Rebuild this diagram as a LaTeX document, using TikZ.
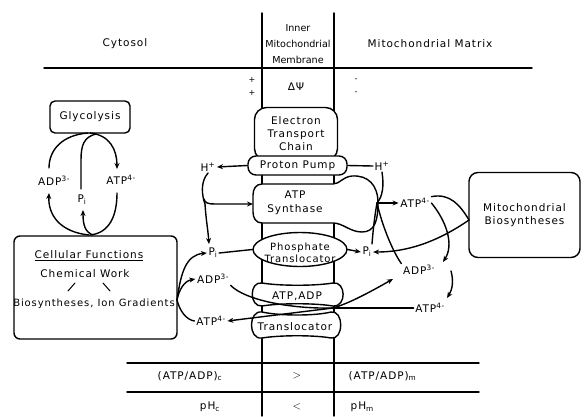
\documentclass[tikz,border=0pt]{standalone}
\usepackage{fontspec}
\setmainfont{DejaVu Sans}[LetterSpace=9]
\newfontfamily\narrowf{DejaVu Sans}
\usetikzlibrary{arrows.meta,shapes.geometric}
\begin{document}
\begin{tikzpicture}[x=1pt,y=-1pt, line width=1.4pt, line join=round, line cap=round,
  lbl/.style={inner sep=1pt, font=\fontsize{10.5}{12}\selectfont},
  sm/.style={inner sep=0.5pt, font=\fontsize{8}{8}\selectfont},
  box/.style={draw, fill=white, rounded corners=6pt, inner sep=2pt, font=\fontsize{10.5}{13}\selectfont, align=center},
  arr/.style={-{Stealth[length=6pt,width=5pt]}}]
\useasboundingbox (0,0) rectangle (584,416);

% membrane and table lines
\draw (262,13) -- (262,416);
\draw (334,13) -- (334,416);
\draw (44,68) -- (532,68);
\draw (127,363) -- (479,363);
\draw (127,392) -- (479,392);

% headers
\node[lbl] (cyt) at (125,44) {Cytosol};
\node[lbl] (mat) at (430,44) {Mitochondrial Matrix};
\node[inner sep=0pt, font=\narrowf\fontsize{9.6}{16}\selectfont, align=center] (imm) at (298,44) {Inner\\Mitochondrial\\Membrane};
\node[lbl] (dpsi) at (296,87) {ΔΨ};
\node[sm] (p1) at (252,80) {+};
\node[sm] (p2) at (252,93) {+};
\node[sm] (m1) at (356,80) {-};
\node[sm] (m2) at (356,93) {-};

% boxes
\node[box, rounded corners=5pt, minimum width=80, minimum height=32] (gly) at (90,117) {Glycolysis};
\node[box, minimum width=163, minimum height=103] (cf) at (95.5,287.5) {};
\node[box, rounded corners=9pt, minimum width=111, minimum height=85] (mb) at (524.5,215) {Mitochondrial\\Biosyntheses};
\node[box, rounded corners=12pt, minimum width=83, minimum height=53] (etc) at (296,134) {Electron\\Transport\\Chain};
\node[box, rounded corners=8pt, minimum width=99, minimum height=19] (pp) at (297.5,165.5) {Proton Pump};

% ATP synthase
\draw[fill=white] (262,184) -- (333,184) .. controls (340,184) and (342,177) .. (352,176)
  .. controls (368,175) and (378,185) .. (378,203) .. controls (378,220) and (375,232) .. (362,232)
  .. controls (350,232) and (343,223) .. (333,223) -- (262,223) .. controls (256,223) and (253,218) .. (253,212)
  -- (253,195) .. controls (253,189) and (256,184) .. (262,184) -- cycle;
% phosphate translocator
\node[draw, fill=white, ellipse, minimum width=94, minimum height=34, inner sep=0pt] (pt) at (300,249.5) {};
% ATP,ADP translocator
\draw[fill=white] (262,283) .. controls (280,286) and (315,286) .. (333,283) .. controls (346,281) and (347,307) .. (333,306)
  .. controls (315,303) and (280,303) .. (262,306) .. controls (249,307) and (249,281) .. (262,283) -- cycle;
\draw[fill=white] (262,312) .. controls (280,316) and (315,316) .. (331,312) .. controls (344,310) and (344,340) .. (331,338)
  .. controls (315,335) and (280,335) .. (262,338) .. controls (248,340) and (248,310) .. (262,312) -- cycle;

% texts inside shapes
\node[lbl, align=center, font=\fontsize{10.5}{14.5}\selectfont] (atps) at (295,203) {ATP\\Synthase};
\node[lbl, align=center, font=\fontsize{10}{12.5}\selectfont] (ptt) at (300,253) {Phosphate\\Translocator};
\node[lbl] (aat) at (297,296) {ATP,ADP};
\node[lbl] (trt) at (295,327) {Translocator};
\coordinate (atpsw) at (253,204);

% Cellular functions texts
\node[lbl] (cft) at (89,256) {\underline{Cellular Functions}};
\node[lbl] (cwt) at (85,274) {Chemical Work};
\node[lbl, font=\fontsize{10}{12}\selectfont] (bit) at (94,304) {Biosyntheses, Ion Gradients};
\draw[line width=1pt] (75,283) -- (68,291);
\draw[line width=1pt] (103,283) -- (110,291);

% glycolysis loop labels
\node[lbl] (adpg) at (54,181) {ADP\textsuperscript{3-}};
\node[lbl] (atpg) at (121,180) {ATP\textsuperscript{4-}};
\node[lbl] (pig) at (82,200) {P\textsubscript{i}};
\draw (88,133) .. controls (62,135) and (49,150) .. (49,168);
\draw[arr] (89,235) .. controls (60,232) and (48,215) .. (49,193);
\draw[arr] (90,133) .. controls (110,135) and (117,150) .. (117,169);
\draw (117,193) .. controls (117,215) and (110,233) .. (90,235);
\draw (96,134) .. controls (84,137) and (81,145) .. (81,160) -- (81,189);
\draw[arr] (93,235) .. controls (85,232) and (83,225) .. (83,210);

% cytosol side labels
\node[lbl] (hl) at (208,167) {H\textsuperscript{+}};
\node[lbl] (pil) at (213,253) {P\textsubscript{i}};
\node[lbl] (adpl) at (213,279) {ADP\textsuperscript{3-}};
\node[lbl] (atpl) at (211,321) {ATP\textsuperscript{4-}};

% matrix side labels
\node[lbl] (hr) at (382,166) {H\textsuperscript{+}};
\node[lbl] (atpu) at (415,203) {ATP\textsuperscript{4-}};
\node[lbl] (pir) at (367,252) {P\textsubscript{i}};
\node[lbl] (adpr) at (419,270) {ADP\textsuperscript{3-}};
\node[lbl] (atpr) at (430,308) {ATP\textsuperscript{4-}};

% table texts
\node[lbl] (rc) at (190,376) {(ATP/ADP)\textsubscript{c}};
\node[lbl] (gt) at (297,376) {$>$};
\node[lbl, anchor=west] (rm) at (347,376) {(ATP/ADP)\textsubscript{m}};
\node[lbl] (phc) at (210,407) {pH\textsubscript{c}};
\node[lbl] (lt) at (297,407) {$<$};
\node[lbl, anchor=west] (phm) at (349,407) {pH\textsubscript{m}};

% cytosol connectors
\draw[arr] (pp.west) -- (hl.east);
\draw (hl.south) .. controls (200,182) and (202,196) .. (205,204);
\draw[arr] (205,204) .. controls (206,220) and (208,230) .. (209,244);
\draw[arr] (204,199) .. controls (205,203) and (208,204) .. (215,204) -- (atpsw);
\draw (pil.east) -- (pt.west);
\coordinate (cfr) at (177,300);
\draw[arr] (cfr) .. controls (181,272) and (186,255) .. (pil.west);
\draw[arr] (cfr) .. controls (179,290) and (184,281) .. (adpl.west);
\draw (atpl.west) .. controls (187,320) and (180,312) .. (cfr);

% ATP/ADP translocator crossing
\coordinate (X) at (333,308);
\draw (adpl.south east) .. controls (245,300) and (290,309) .. (X);
\draw[arr] (X) .. controls (350,303) and (370,292) .. (393,279);
\draw (atpr.west) -- (X);
\draw[arr] (X) -- (atpl.east);

% matrix connectors
\coordinate (J) at (377,203);
\draw[arr] (pt.east) -- (pir.west);
\draw (pp.east) -- (hr.west);
\draw (hr.south) .. controls (384,185) and (383,196) .. (J);
\draw[arr] (J) -- (atpu.west);
\draw (J) .. controls (374,220) and (373,232) .. (372,244);
\draw (J) .. controls (382,225) and (392,250) .. (adpr.north west);
\coordinate (B1) at (469,220);
\draw[arr] (B1) .. controls (440,240) and (410,252) .. (pir.east);
\draw (atpu.north east) .. controls (450,193) and (460,205) .. (B1);
\draw[arr] (atpu.east) .. controls (447,222) and (454,245) .. (443,262);
\draw[arr] (451,271) .. controls (454,282) and (452,290) .. (447,298);
\end{tikzpicture}
\end{document}
